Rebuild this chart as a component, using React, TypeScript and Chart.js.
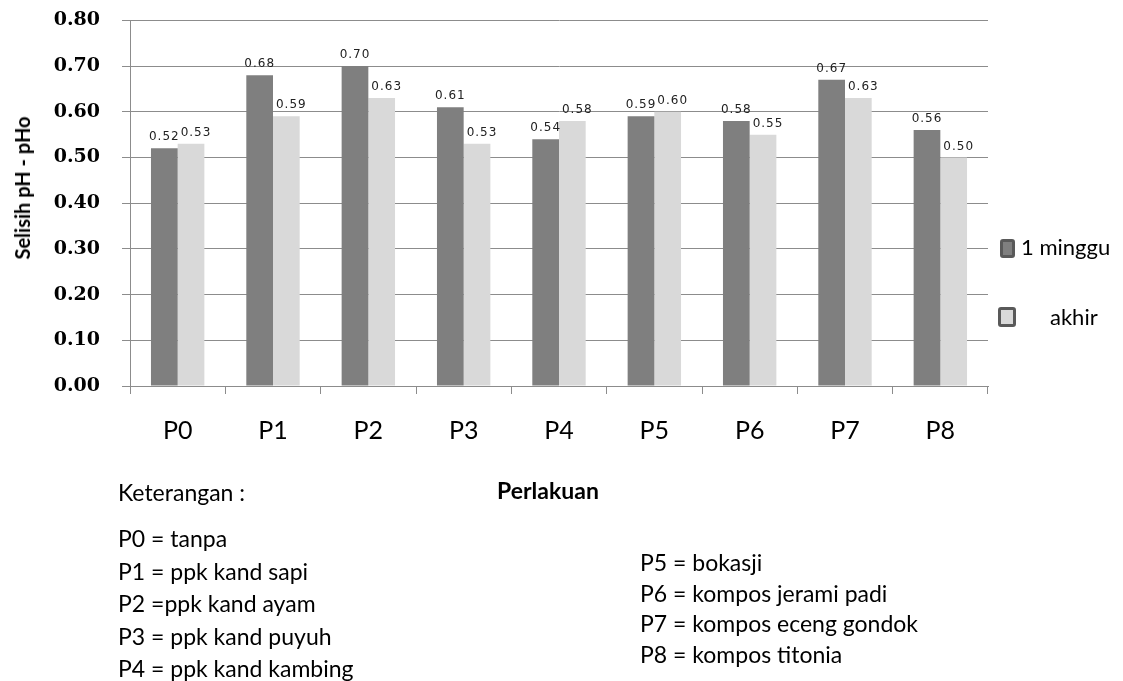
import React, { useEffect, useRef } from "react";
import { Chart, registerables } from "chart.js";

Chart.register(...registerables);

const categories = ["P0", "P1", "P2", "P3", "P4", "P5", "P6", "P7", "P8"];
const mingguValues = [0.52, 0.68, 0.7, 0.61, 0.54, 0.59, 0.58, 0.67, 0.56];
const akhirValues = [0.53, 0.59, 0.63, 0.53, 0.58, 0.6, 0.55, 0.63, 0.5];
const seriesNames = ["1 minggu", "akhir"];
const yTicksMin = 0;
const yTicksMax = 0.8;
const yTicksStep = 0.1;
const leftNotes = [
  "P0 = tanpa",
  "P1 = ppk kand sapi",
  "P2 =ppk kand ayam",
  "P3 = ppk kand puyuh",
  "P4 = ppk kand kambing",
];
const rightNotes = [
  "P5 = bokasji",
  "P6 = kompos jerami padi",
  "P7 = kompos eceng gondok",
  "P8 = kompos titonia",
];

const DARK = "#7f7f7f";
const LIGHT = "#d9d9d9";
const GRID = "#8c8c8c";
const SANS = "Lato, 'Open Sans', sans-serif";
const SHIFT = 13;
const CANVAS_H = 681 + SHIFT;

const labelPlugin = {
  id: "valueLabels",
  afterDatasetsDraw(chart: any) {
    const ctx = chart.ctx;
    ctx.save();
    ctx.font = "12px 'DejaVu Sans'";
    try {
      (ctx as any).letterSpacing = "1px";
    } catch (e) {}
    ctx.fillStyle = "#222";
    ctx.textAlign = "center";
    ctx.textBaseline = "bottom";
    chart.data.datasets.forEach((ds: any, di: number) => {
      const meta = chart.getDatasetMeta(di);
      meta.data.forEach((el: any, i: number) => {
        const v = ds.data[i];
        const dx = di === 1 ? 5 : 0;
        ctx.fillText(Number(v).toFixed(2), el.x + dx, el.y - 5);
      });
    });
    ctx.restore();
  },
};

export default function App() {
  const canvasRef = useRef<HTMLCanvasElement | null>(null);

  useEffect(() => {
    document.body.style.margin = "0";
    const canvas = canvasRef.current;
    if (!canvas) return;
    const chart = new Chart(canvas, {
      type: "bar",
      data: {
        labels: categories,
        datasets: [
          {
            label: seriesNames[0],
            data: mingguValues,
            backgroundColor: DARK,
            borderWidth: 0,
            categoryPercentage: 0.56,
            barPercentage: 1,
          },
          {
            label: seriesNames[1],
            data: akhirValues,
            backgroundColor: LIGHT,
            borderWidth: 0,
            categoryPercentage: 0.56,
            barPercentage: 1,
          },
        ],
      },
      options: {
        responsive: false,
        animation: false,
        devicePixelRatio: 1,
        layout: { padding: { left: 0, right: 135, top: 8, bottom: 0 } },
        plugins: {
          legend: { display: false },
          tooltip: { enabled: false },
        },
        scales: {
          x: {
            grid: {
              display: true,
              drawOnChartArea: false,
              drawTicks: true,
              tickLength: 8,
              color: GRID,
              offset: true,
            },
            border: { display: true, color: GRID },
            ticks: {
              font: { family: SANS, size: 25 },
              color: "#000",
              padding: 22,
            },
            afterFit: (s: any) => {
              s.height = 681 - 386;
            },
          },
          y: {
            min: yTicksMin,
            max: yTicksMax,
            ticks: {
              stepSize: yTicksStep,
              callback: (v: any) => Number(v).toFixed(2),
              font: { family: "'DejaVu Serif'", weight: "bold", size: 19 },
              color: "#000",
              padding: 22,
            },
            grid: { color: GRID, tickLength: 8 },
            border: { display: true, color: GRID },
            afterFit: (s: any) => {
              s.width = 130;
            },
          },
        },
      },
      plugins: [labelPlugin],
    });
    return () => chart.destroy();
  }, []);

  const text: React.CSSProperties = {
    position: "absolute",
    fontFamily: SANS,
    fontSize: 23,
    color: "#000",
    whiteSpace: "nowrap",
    lineHeight: "1",
  };

  return (
    <div style={{ position: "relative", width: 1123, height: 681, overflow: "hidden", background: "#fff" }}>
      <canvas
        ref={canvasRef}
        width={1123}
        height={CANVAS_H}
        style={{ position: "absolute", left: 0, top: -SHIFT, width: 1123, height: CANVAS_H }}
      />
      <div
        style={{
          position: "absolute",
          left: 22,
          top: 188,
          transform: "translate(-50%, -50%) rotate(-90deg)",
          fontFamily: SANS,
          fontWeight: "bold",
          fontSize: 20,
          whiteSpace: "nowrap",
          color: "#000",
        }}
      >
        Selisih pH - pHo
      </div>
      {/* legend */}
      <div style={{ position: "absolute", left: 1000, top: 239, width: 9, height: 13, background: DARK, border: "3px solid #595959", borderRadius: 3 }} />
      <div style={{ ...text, left: 1021, top: 236, fontSize: 22 }}>{seriesNames[0]}</div>
      <div style={{ position: "absolute", left: 998, top: 307, width: 12, height: 14, background: LIGHT, border: "3px solid #595959", borderRadius: 3 }} />
      <div style={{ ...text, left: 1050, top: 306, fontSize: 22 }}>{seriesNames[1]}</div>
      {/* notes */}
      <div style={{ ...text, left: 118, top: 481 }}>Keterangan :</div>
      <div style={{ ...text, left: 497, top: 479, fontWeight: "bold" }}>Perlakuan</div>
      {leftNotes.map((t, i) => (
        <div key={t} style={{ ...text, left: 118, top: 527 + i * 32.5 }}>{t}</div>
      ))}
      {rightNotes.map((t, i) => (
        <div key={t} style={{ ...text, left: 640, top: 551 + i * 30.5 }}>{t}</div>
      ))}
    </div>
  );
}
